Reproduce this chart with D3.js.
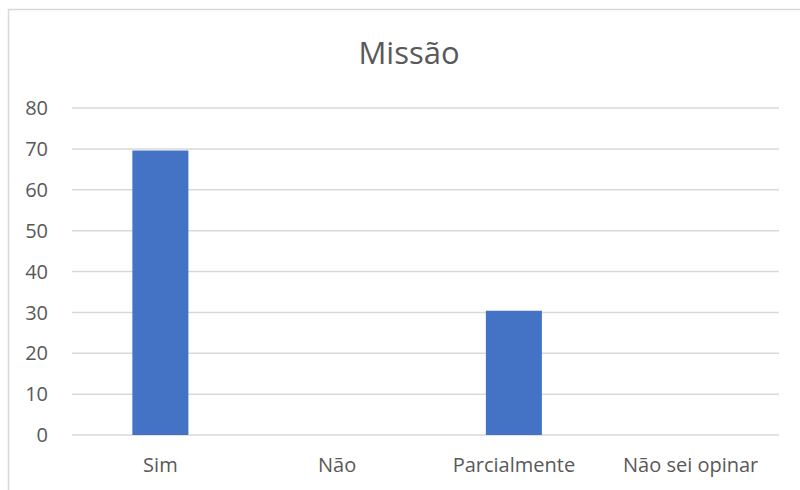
<!DOCTYPE html>
<html>
<head>
<meta charset="utf-8">
<script src="https://cdn.jsdelivr.net/npm/d3@7"></script>
<style>
  body { margin: 0; background: #fff; }
  text { font-family: "Open Sans", sans-serif; fill: #595959; }
</style>
</head>
<body>
<svg width="800" height="490"></svg>
<script>
// chart data
var categories = ["Sim", "Não", "Parcialmente", "Não sei opinar"];
var values = [69.6, 0, 30.4, 0];
var yTicks = [0, 10, 20, 30, 40, 50, 60, 70, 80];
var title = "Missão";

var svg = d3.select("svg"),
    width = +svg.attr("width"),
    height = +svg.attr("height");

var plot = { left: 72, right: 779, top: 108, bottom: 435 };

// outer chart border (runs off the right/bottom edge like the screenshot)
svg.append("rect")
    .attr("x", 8.5)
    .attr("y", 9.5)
    .attr("width", 820)
    .attr("height", 520)
    .attr("fill", "none")
    .attr("stroke", "#d9d9d9")
    .attr("stroke-width", 1.5);

var x = d3.scaleBand()
    .domain(categories)
    .range([plot.left, plot.right]);

var y = d3.scaleLinear()
    .domain([0, 80])
    .range([plot.bottom, plot.top]);

// gridlines
svg.append("g")
  .selectAll("line")
  .data(yTicks)
  .enter().append("line")
    .attr("x1", plot.left)
    .attr("x2", plot.right)
    .attr("y1", d => y(d))
    .attr("y2", d => y(d))
    .attr("stroke", "#d9d9d9")
    .attr("stroke-width", 1.5);

// y tick labels
svg.append("g")
  .selectAll("text")
  .data(yTicks)
  .enter().append("text")
    .attr("x", 48)
    .attr("y", d => y(d))
    .attr("dy", "0.36em")
    .attr("text-anchor", "end")
    .style("font-size", "20px")
    .text(d => d);

// bars
var barW = x.bandwidth() * 0.317;
svg.append("g")
  .selectAll("rect")
  .data(values)
  .enter().append("rect")
    .attr("x", (d, i) => x(categories[i]) + (x.bandwidth() - barW) / 2)
    .attr("y", d => y(d))
    .attr("width", barW)
    .attr("height", d => y(0) - y(d))
    .attr("fill", "#4472c4");

// x labels
svg.append("g")
  .selectAll("text")
  .data(categories)
  .enter().append("text")
    .attr("x", d => x(d) + x.bandwidth() / 2)
    .attr("y", 472)
    .attr("text-anchor", "middle")
    .style("font-size", "20px")
    .text(d => d);

// title
svg.append("text")
    .attr("x", 409)
    .attr("y", 64)
    .attr("text-anchor", "middle")
    .style("font-size", "31px")
    .text(title);
</script>
</body>
</html>
